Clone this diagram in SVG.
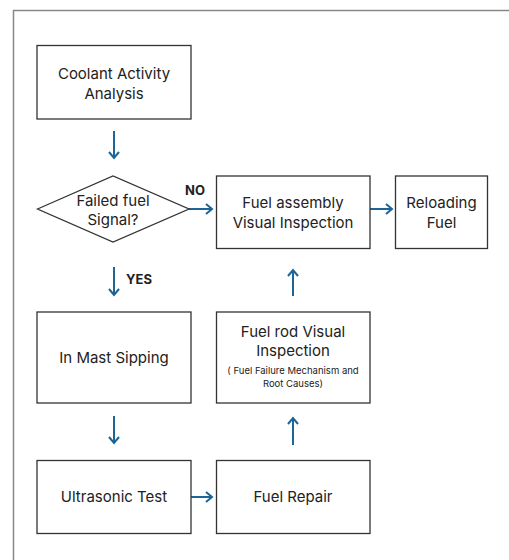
<svg xmlns="http://www.w3.org/2000/svg" width="509" height="560" viewBox="0 0 509 560">
<style>
.box{fill:#fff;stroke:#333;stroke-width:1.3}
.t{font-family:Inter,"Liberation Sans",sans-serif;font-size:15px;fill:#222;text-anchor:middle}
.s{font-family:Inter,"Liberation Sans",sans-serif;font-size:9.5px;fill:#222;text-anchor:middle}
.b{font-family:Inter,"Liberation Sans",sans-serif;font-size:13px;font-weight:bold;fill:#222}
.c{stroke:#1d6497;stroke-width:2;fill:none;marker-end:url(#ah)}
</style>
<defs>
<marker id="ah" viewBox="0 0 10 12" refX="8" refY="6" markerWidth="10" markerHeight="12" markerUnits="userSpaceOnUse" orient="auto">
<path d="M2,1 L8,6 L2,11" fill="none" stroke="#1d6497" stroke-width="2"/>
</marker>
</defs>
<rect width="509" height="560" fill="#fff"/>
<path d="M13.5,560 V10.5 H509" fill="none" stroke="#888" stroke-width="1.5"/>
<g id="connectors">
<line class="c" x1="114" y1="131" x2="114" y2="158"/>
<line class="c" x1="189" y1="209" x2="212" y2="209"/>
<line class="c" x1="370" y1="209" x2="392" y2="209"/>
<line class="c" x1="114" y1="267" x2="114" y2="295"/>
<line class="c" x1="293" y1="296" x2="293" y2="270"/>
<line class="c" x1="114" y1="416" x2="114" y2="443"/>
<line class="c" x1="293" y1="445" x2="293" y2="418"/>
<line class="c" x1="191" y1="497" x2="212" y2="497"/>
<text class="b" x="185" y="195">NO</text>
<text class="b" x="126" y="284">YES</text>
</g>
<g id="coolant">
<rect class="box" x="37" y="45.5" width="154" height="73.5"/>
<text class="t" x="114" y="79">Coolant Activity</text>
<text class="t" x="114" y="98.5">Analysis</text>
</g>
<g id="decision">
<polygon class="box" points="37.5,209 113,176 189,209 113,242"/>
<text class="t" x="113" y="206">Failed fuel</text>
<text class="t" x="113" y="225">Signal?</text>
</g>
<g id="assembly">
<rect class="box" x="216.5" y="176" width="153.5" height="72.5"/>
<text class="t" x="293" y="208">Fuel assembly</text>
<text class="t" x="293" y="228">Visual Inspection</text>
</g>
<g id="reloading">
<rect class="box" x="395.5" y="176" width="92" height="72.5"/>
<text class="t" x="441.5" y="208">Reloading</text>
<text class="t" x="441.5" y="228">Fuel</text>
</g>
<g id="sipping">
<rect class="box" x="37" y="312" width="154" height="91"/>
<text class="t" x="114" y="363">In Mast Sipping</text>
</g>
<g id="rodinspection">
<rect class="box" x="216.5" y="312" width="153.5" height="91"/>
<text class="t" x="293" y="337">Fuel rod Visual</text>
<text class="t" x="293" y="356">Inspection</text>
<text class="s" x="293" y="374">( Fuel Failure Mechanism and</text>
<text class="s" x="293" y="387">Root Causes)</text>
</g>
<g id="ultrasonic">
<rect class="box" x="37" y="460.5" width="154" height="73"/>
<text class="t" x="114" y="502">Ultrasonic Test</text>
</g>
<g id="repair">
<rect class="box" x="216.5" y="460.5" width="153.5" height="73"/>
<text class="t" x="293" y="502">Fuel Repair</text>
</g>
</svg>
